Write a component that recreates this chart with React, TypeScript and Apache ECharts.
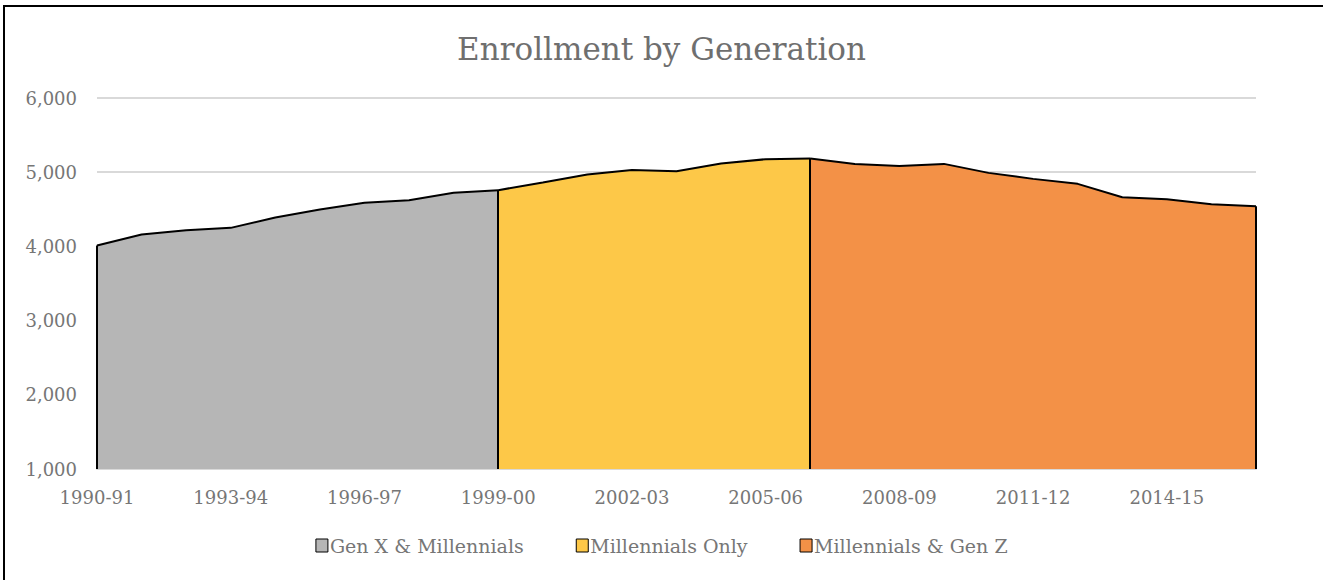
import React, { useEffect, useRef } from "react";
import * as echarts from "echarts";

const categories = [
  "1990-91", "1991-92", "1992-93", "1993-94", "1994-95", "1995-96", "1996-97",
  "1997-98", "1998-99", "1999-00", "2000-01", "2001-02", "2002-03", "2003-04",
  "2004-05", "2005-06", "2006-07", "2007-08", "2008-09", "2009-10", "2010-11",
  "2011-12", "2012-13", "2013-14", "2014-15", "2015-16", "2016-17",
];

const enrollment = [
  4013, 4161, 4219, 4250, 4390, 4497, 4587, 4623, 4722, 4758,
  4861, 4969, 5031, 5013, 5117, 5175, 5184,
  5112, 5085, 5112, 4991, 4910, 4843, 4663, 4636, 4569, 4542,
];

const seriesNames = ["Gen X & Millennials", "Millennials Only", "Millennials & Gen Z"];
const seriesColors = ["#b6b6b6", "#fdc848", "#f39147"];
// index ranges (inclusive) of each generation
const seriesRanges: [number, number][] = [[0, 9], [9, 16], [16, 26]];

const yMin = 1000;
const yMax = 6000;
const yInterval = 1000;

const FONT = "DejaVu Serif";
const GRAY = "#767676";

export default function App() {
  const ref = useRef<HTMLDivElement>(null);
  useEffect(() => {
    if (!ref.current) return;
    const chart = echarts.init(ref.current, null, { renderer: "svg" });
    const series = seriesNames.map((name, i) => {
      const [a, b] = seriesRanges[i];
      const data = enrollment.map((v, k) => (k >= a && k <= b ? v : "-"));
      return {
        name,
        type: "line",
        data,
        symbol: "none",
        lineStyle: { color: "#000", width: 2 },
        itemStyle: { color: seriesColors[i], borderColor: "#000", borderWidth: 1 },
        areaStyle: { color: seriesColors[i], opacity: 1, origin: "start" },
        z: 2,
        markLine: {
          silent: true,
          symbol: "none",
          label: { show: false },
          lineStyle: { color: "#000", width: 2, type: "solid" },
          data: [
            [{ coord: [a, yMin] }, { coord: [a, enrollment[a]] }],
            [{ coord: [b, yMin] }, { coord: [b, enrollment[b]] }],
          ],
        },
      };
    });
    chart.setOption({
      animation: false,
      backgroundColor: "#fff",
      textStyle: { fontFamily: FONT },
      title: {
        text: "Enrollment by Generation",
        left: "center",
        top: 28,
        textStyle: { fontFamily: FONT, fontSize: 31, fontWeight: "normal", color: "#6f6f6f" },
      },
      graphic: [
        {
          type: "rect",
          shape: { x: 4, y: 6, width: 1330, height: 600 },
          style: { fill: "none", stroke: "#000", lineWidth: 2 },
          silent: true,
        },
      ],
      legend: {
        bottom: 20,
        left: "center",
        itemWidth: 12,
        itemHeight: 13,
        itemGap: 52,
        icon: "rect",
        textStyle: { fontFamily: FONT, fontSize: 19, color: GRAY, padding: [0, 0, 0, -3] },
        data: seriesNames.map((n, i) => ({
          name: n,
          itemStyle: { color: seriesColors[i], borderColor: "#000", borderWidth: 1 },
        })),
      },
      grid: { left: 97, right: 67, top: 98, bottom: 111 },
      xAxis: {
        type: "category",
        data: categories,
        boundaryGap: false,
        axisLine: { show: true, lineStyle: { color: "#d9d9d9", width: 2 } },
        axisTick: { show: false },
        axisLabel: {
          interval: 2,
          margin: 19,
          fontFamily: FONT,
          fontSize: 18,
          color: GRAY,
        },
      },
      yAxis: {
        type: "value",
        min: yMin,
        max: yMax,
        interval: yInterval,
        axisLine: { show: false },
        axisTick: { show: false },
        splitLine: { lineStyle: { color: "#d9d9d9", width: 2 } },
        axisLabel: {
          margin: 20,
          fontFamily: FONT,
          fontSize: 18,
          color: GRAY,
          formatter: (v: number) => v.toLocaleString("en-US"),
        },
      },
      series,
    });
    return () => chart.dispose();
  }, []);
  return (
    <div
      ref={ref}
      style={{ position: "fixed", left: 0, top: 0, width: 1323, height: 580 }}
    />
  );
}
